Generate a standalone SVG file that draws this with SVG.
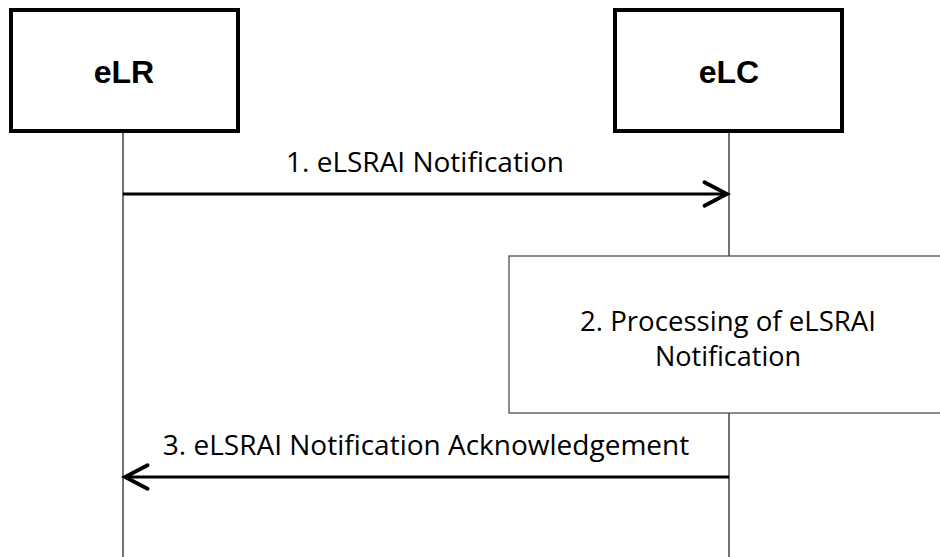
<svg xmlns="http://www.w3.org/2000/svg" width="940" height="557" viewBox="0 0 940 557">
<style>
.actor{fill:#fff;stroke:#000;stroke-width:4}
.title{font-family:"Liberation Sans",Arial,sans-serif;font-weight:bold;font-size:32px;fill:#000;text-anchor:middle}
.lbl{font-family:"Open Sans","Liberation Sans",sans-serif;font-size:28px;fill:#000;text-anchor:middle}
.plbl{font-family:"Open Sans","Liberation Sans",sans-serif;font-size:27px;fill:#000;text-anchor:middle}
.life{stroke:#444;stroke-width:1.5;fill:none}
.msg{stroke:#000;stroke-width:3;fill:none}
.proc{fill:#fff;stroke:#444;stroke-width:1.2}
</style>
<defs>
<marker id="arr" markerUnits="userSpaceOnUse" markerWidth="30" markerHeight="30" viewBox="-24 -14 28 28" refX="0" refY="0" orient="auto">
<path d="M-21,-11 L0,0 L-21,11" fill="none" stroke="#000" stroke-width="3.5" stroke-linecap="round" stroke-linejoin="miter"/>
</marker>
</defs>
<g id="connectors">
<line class="life" x1="123" y1="131" x2="123" y2="557"/>
<line class="life" x1="729" y1="131" x2="729" y2="557"/>
<line class="msg" x1="123" y1="194" x2="727" y2="194" marker-end="url(#arr)"/>
<text class="lbl" x="425" y="172">1. eLSRAI Notification</text>
<line class="msg" x1="729" y1="477" x2="125" y2="477" marker-end="url(#arr)"/>
<text class="lbl" x="426" y="455">3. eLSRAI Notification Acknowledgement</text>
</g>
<g id="eLR">
<rect class="actor" x="11" y="10" width="227" height="121"/>
<text class="title" x="124" y="83">eLR</text>
</g>
<g id="eLC">
<rect class="actor" x="615" y="10" width="227" height="121"/>
<text class="title" x="729" y="83">eLC</text>
</g>
<g id="processing">
<rect class="proc" x="509" y="256" width="440" height="157"/>
<text class="plbl" x="728" y="331" textLength="296" lengthAdjust="spacingAndGlyphs">2. Processing of eLSRAI</text>
<text class="plbl" x="728" y="366">Notification</text>
</g>
</svg>
